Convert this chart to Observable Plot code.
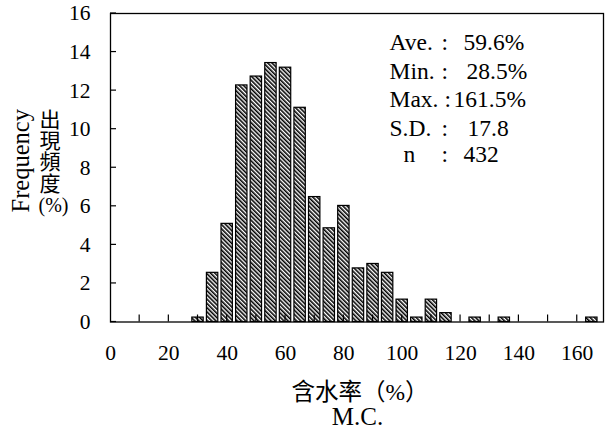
<!DOCTYPE html>
<html>
<head>
<meta charset="utf-8">
<script src="https://cdn.jsdelivr.net/npm/d3@7"></script>
<script src="https://cdn.jsdelivr.net/npm/@observablehq/plot@0.6"></script>
<style>
  html, body { margin: 0; padding: 0; background: #fff; }
  svg text { font-family: 'Liberation Serif', 'Noto Sans CJK TC', serif; }
  svg text.cjk { font-family: 'Noto Sans CJK TC', 'Noto Sans CJK JP', sans-serif; }
</style>
</head>
<body>
<div id="chart"></div>
<script>
// ---- data ----
const binCenters = [30, 35, 40, 45, 50, 55, 60, 65, 70, 75, 80, 85, 90, 95, 100, 105, 110, 115, 125, 135, 165];
const frequency  = [0.23, 2.55, 5.09, 12.27, 12.73, 13.43, 13.19, 11.11, 6.48, 4.86, 6.02, 2.78, 3.01, 2.55, 1.16, 0.23, 1.16, 0.46, 0.23, 0.23, 0.23];
const xTickLabels = [0, 20, 40, 60, 80, 100, 120, 140, 160];
const xTickMarks  = [10, 20, 30, 40, 50, 60, 70, 80, 90, 100, 110, 120, 130, 140, 150, 160];
const yTickLabels = [0, 2, 4, 6, 8, 10, 12, 14, 16];
const statLabels = ["Ave.", "Min.", "Max.", "S.D.", "n"];
const statValues = ["59.6%", "28.5%", "161.5%", "17.8", "432"];
const yTitleEn = "Frequency";
const yTitleZh = "出現頻度";
const yTitleUnit = "(%)";
const xTitleZh = "含水率（%）";
const xTitleEn = "M.C.";

const bars = binCenters.map((c, i) => ({center: c, freq: frequency[i]}));

const serif = "'Liberation Serif', 'Noto Sans CJK TC', serif";
const cjk = "'Noto Sans CJK TC', 'Noto Sans CJK JP', sans-serif";

// hatch pattern definition
function hatchDefs() {
  const svg = d3.create("svg:g");
  const pat = svg.append("defs").append("pattern")
    .attr("id", "hatch")
    .attr("patternUnits", "userSpaceOnUse")
    .attr("width", 3).attr("height", 3)
    .attr("patternTransform", "rotate(-45)");
  pat.append("rect").attr("width", 3).attr("height", 3).attr("fill", "#fff");
  pat.append("line").attr("x1", 0.8).attr("x2", 0.8).attr("y1", -1).attr("y2", 4)
    .attr("stroke", "#000").attr("stroke-width", 1.6);
  return svg.node();
}

// inward tick marks drawn with the plot's scales
function inwardTicks(index, scales) {
  const g = d3.create("svg:g").attr("stroke", "#000").attr("stroke-width", 1.2);
  const y0 = scales.y(0);
  for (const t of xTickMarks) {
    g.append("line").attr("x1", scales.x(t)).attr("x2", scales.x(t)).attr("y1", y0).attr("y2", y0 - 7);
  }
  const x0 = scales.x(0);
  for (const t of yTickLabels) {
    g.append("line").attr("x1", x0).attr("x2", x0 + 6).attr("y1", scales.y(t)).attr("y2", scales.y(t));
  }
  return g.node();
}

// vertical CJK axis title (one text element, vertical writing mode)
function verticalTitle() {
  const t = d3.create("svg:text")
    .attr("class", "cjk")
    .attr("x", 50).attr("y", 151)
    .attr("font-size", 21)
    .attr("letter-spacing", 0.3)
    .attr("fill", "#000")
    .style("writing-mode", "vertical-rl")
    .text(yTitleZh);
  return t.node();
}

// stats block marks (positions in px relative to the frame's top-left)
const ML = 110, MT = 13;
const rowY = [42, 71, 99, 128, 154];
const labelX = [389, 389, 389, 389, 403];
const colonX = [441, 441, 444, 441, 441];
const valueX = [463, 466, 453, 467, 463];
const statMarks = [];
statLabels.forEach((lab, i) => {
  const common = {frameAnchor: "top-left", dy: rowY[i] - MT, lineAnchor: "middle", textAnchor: "start", fontSize: 23.5, fontFamily: serif, fill: "#000"};
  statMarks.push(Plot.text([lab], {...common, text: d => d, dx: labelX[i] - ML}));
  statMarks.push(Plot.text([":"], {...common, text: d => d, dx: colonX[i] - ML}));
  statMarks.push(Plot.text([statValues[i]], {...common, text: d => d, dx: valueX[i] - ML}));
});

const chart = Plot.plot({
  width: 605,
  height: 433,
  marginLeft: ML,
  marginRight: 2,
  marginTop: MT,
  marginBottom: 111.5,
  style: {fontFamily: serif, fontSize: "21px", background: "#fff", color: "#000"},
  x: {domain: [0, 169], label: null},
  y: {domain: [0, 16], label: null},
  marks: [
    hatchDefs,
    Plot.rect(bars, {x1: d => d.center - 1.95, x2: d => d.center + 1.95, y1: 0, y2: "freq",
      fill: "url(#hatch)", stroke: "#000", strokeWidth: 1.2}),
    Plot.frame({stroke: "#000", strokeWidth: 1.3}),
    inwardTicks,
    Plot.axisX(xTickLabels, {tickSize: 0, tickPadding: 23, fontSize: 21.5, fontFamily: serif, label: null}),
    Plot.axisY(yTickLabels, {tickSize: 0, tickPadding: 20, fontSize: 21.5, fontFamily: serif, label: null}),
    Plot.text([yTitleEn], {frameAnchor: "left", text: d => d, rotate: -90, dx: 21 - ML, dy: -7,
      fontSize: 24.5, fontFamily: serif, textAnchor: "middle", lineAnchor: "middle"}),
    verticalTitle,
    Plot.text([yTitleUnit], {frameAnchor: "left", text: d => d, dx: 53 - ML, dy: 38,
      fontSize: 20, fontFamily: serif, textAnchor: "middle", lineAnchor: "middle"}),
    Plot.text([xTitleZh], {frameAnchor: "bottom", text: d => d, dx: 3, dy: 70.5,
      fontSize: 23.5, fontFamily: cjk, textAnchor: "middle", lineAnchor: "middle"}),
    Plot.text([xTitleEn], {frameAnchor: "bottom", text: d => d, dx: 0.5, dy: 94.5,
      fontSize: 25, fontFamily: serif, textAnchor: "middle", lineAnchor: "middle"}),
    ...statMarks
  ]
});
document.getElementById("chart").appendChild(chart);
</script>
</body>
</html>
